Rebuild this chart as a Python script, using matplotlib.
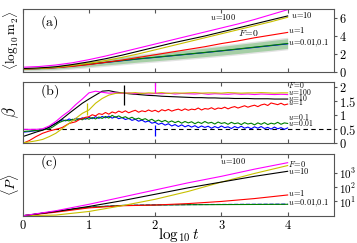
import numpy as np
import matplotlib as mpl
mpl.use('agg')
import matplotlib.pyplot as plt

plt.rcParams['mathtext.fontset'] = 'cm'
plt.rcParams['font.family'] = 'serif'
plt.rcParams['font.serif'] = ['DejaVu Serif']

## panel (a): <log10 m2> vs log10 t
xa = [0, 0.25, 0.5, 0.75, 1.0, 1.25, 1.5, 1.75, 2.0, 2.25, 2.5, 2.75, 3.0, 3.25, 3.5, 3.75, 4.0]
m_u100 = [0.5, 0.58, 0.75, 1.0, 1.35, 1.75, 2.2, 2.65, 3.1, 3.55, 4.0, 4.45, 4.9, 5.35, 5.85, 6.4, 6.95]
m_u10 = [0.35, 0.42, 0.55, 0.8, 1.1, 1.45, 1.85, 2.3, 2.75, 3.2, 3.6, 4.0, 4.45, 4.9, 5.35, 5.8, 6.25]
m_F0 = [0.3, 0.36, 0.48, 0.7, 0.95, 1.25, 1.6, 2.0, 2.45, 2.9, 3.35, 3.8, 4.25, 4.7, 5.15, 5.6, 6.1]
m_u1 = [0.3, 0.35, 0.45, 0.6, 0.8, 1.05, 1.3, 1.6, 1.9, 2.2, 2.5, 2.8, 3.15, 3.45, 3.8, 4.1, 4.4]
m_u01 = [0.3, 0.36, 0.48, 0.65, 0.85, 1.05, 1.25, 1.45, 1.62, 1.8, 1.98, 2.16, 2.35, 2.55, 2.75, 2.95, 3.16]
m_u001 = [0.3, 0.35, 0.46, 0.63, 0.83, 1.03, 1.23, 1.43, 1.6, 1.78, 1.96, 2.14, 2.33, 2.52, 2.72, 2.92, 3.12]
m_band = [0.1, 0.14, 0.18, 0.22, 0.26, 0.3, 0.34, 0.37, 0.4, 0.43, 0.45, 0.47, 0.49, 0.51, 0.52, 0.54, 0.55]

## panel (b): beta vs log10 t
xb = np.round(np.arange(0, 4.001, 0.1), 2)
b_u100 = [0.5, 0.5, 0.5, 0.52, 0.62, 0.78, 0.98, 1.15, 1.38, 1.58, 1.8, 1.86, 1.82, 1.79, 1.8,
          1.78, 1.8, 1.77, 1.79, 1.76, 1.78, 1.77, 1.79, 1.76, 1.78, 1.77, 1.76, 1.78, 1.75, 1.77,
          1.76, 1.75, 1.77, 1.75, 1.76, 1.74, 1.76, 1.75, 1.74, 1.75, 1.74]
b_u10 = [0.24, 0.32, 0.4, 0.47, 0.58, 0.71, 0.88, 1.07, 1.25, 1.43, 1.58, 1.72, 1.86, 1.88, 1.83,
         1.8, 1.77, 1.75, 1.73, 1.71, 1.7, 1.68, 1.67, 1.66, 1.65, 1.64, 1.63, 1.63, 1.62, 1.62,
         1.61, 1.61, 1.6, 1.6, 1.6, 1.59, 1.59, 1.59, 1.58, 1.58, 1.58]
b_F0 = [0.02, 0.05, 0.09, 0.14, 0.24, 0.36, 0.53, 0.71, 0.89, 1.07, 1.19, 1.43, 1.6, 1.72, 1.78,
        1.8, 1.79, 1.81, 1.78, 1.8, 1.79, 1.81, 1.78, 1.8, 1.79, 1.8, 1.81, 1.79, 1.8, 1.8,
        1.79, 1.81, 1.8, 1.79, 1.8, 1.8, 1.81, 1.8, 1.79, 1.8, 1.8]
xb2 = np.round(np.arange(0, 4.001, 0.05), 2)
b_u1 = [0.00, 0.05, 0.10, 0.17, 0.24, 0.30, 0.36, 0.40, 0.44, 0.47, 0.50, 0.53, 0.57, 0.64, 0.71,
        0.74, 0.77, 0.84, 0.89, 0.93, 0.95, 1.02, 0.98, 1.06, 1.03, 1.10, 1.04, 1.12, 1.08, 1.15,
        1.10, 1.16, 1.09, 1.14, 1.18, 1.11, 1.16, 1.13, 1.19, 1.14, 1.18, 1.12, 1.20, 1.16, 1.21,
        1.15, 1.19, 1.22, 1.17, 1.23, 1.18, 1.22, 1.20, 1.26, 1.19, 1.24, 1.22, 1.27, 1.21, 1.26,
        1.24, 1.29, 1.23, 1.28, 1.31, 1.26, 1.30, 1.34, 1.29, 1.33, 1.36, 1.31, 1.37, 1.40, 1.35,
        1.44, 1.41, 1.38, 1.43, 1.37, 1.40]
b_u01 = [0.42, 0.43, 0.44, 0.45, 0.46, 0.47, 0.48, 0.50, 0.52, 0.58, 0.66, 0.74, 0.79, 0.83, 0.80,
         0.86, 0.82, 0.88, 0.84, 0.91, 0.86, 0.92, 0.87, 0.94, 0.89, 0.96, 0.90, 1.00, 0.93, 0.98,
         0.91, 0.95, 0.88, 0.93, 0.86, 0.90, 0.84, 0.88, 0.81, 0.86, 0.78, 0.83, 0.77, 0.82, 0.75,
         0.80, 0.74, 0.79, 0.72, 0.78, 0.73, 0.77, 0.70, 0.76, 0.71, 0.78, 0.72, 0.75, 0.69, 0.76,
         0.71, 0.74, 0.68, 0.75, 0.70, 0.73, 0.67, 0.74, 0.69, 0.72, 0.66, 0.73, 0.68, 0.74, 0.67,
         0.72, 0.69, 0.75, 0.68, 0.73, 0.71]
b_u001 = [0.40, 0.41, 0.42, 0.44, 0.45, 0.47, 0.49, 0.52, 0.57, 0.65, 0.72, 0.78, 0.84, 0.80, 0.87,
          0.83, 0.89, 0.85, 0.91, 0.86, 0.93, 0.88, 0.95, 0.89, 0.96, 0.91, 0.97, 0.90, 0.95, 0.88,
          0.92, 0.85, 0.89, 0.82, 0.86, 0.79, 0.83, 0.76, 0.80, 0.72, 0.75, 0.68, 0.72, 0.65, 0.70,
          0.62, 0.67, 0.60, 0.66, 0.59, 0.64, 0.58, 0.63, 0.56, 0.62, 0.57, 0.61, 0.54, 0.60, 0.55,
          0.62, 0.56, 0.59, 0.53, 0.60, 0.55, 0.61, 0.54, 0.58, 0.52, 0.59, 0.54, 0.60, 0.53, 0.57,
          0.51, 0.58, 0.52, 0.56, 0.50, 0.55]
# isolated spikes in the beta curves: position, low, high, colour
spike_x = [0.97, 1.53, 2.0, 2.0]
spike_lo = [1.0, 1.37, 1.8, 0.25]
spike_hi = [1.43, 2.08, 2.2, 0.65]
spike_c = ['#c8c000', 'k', 'magenta', 'blue']

## panel (c): log10 <P> vs log10 t
xc = [0, 0.5, 1.0, 1.5, 2.0, 2.5, 3.0, 3.5, 4.0]
p_u100 = [0, 0.35, 0.8, 1.3, 1.8, 2.3, 2.75, 3.25, 3.7]
p_u10 = [0, 0.3, 0.65, 1.05, 1.5, 1.95, 2.35, 2.75, 3.1]
p_F0 = [0, 0.05, 0.3, 0.7, 1.15, 1.7, 2.35, 2.95, 3.5]
p_u1 = [0, 0.25, 0.55, 0.7, 0.75, 0.85, 1.0, 1.2, 1.45]
p_u01 = [0, 0.3, 0.6, 0.72, 0.75, 0.77, 0.78, 0.79, 0.8]
p_u001 = [0, 0.3, 0.6, 0.72, 0.76, 0.78, 0.79, 0.8, 0.81]

yel = '#c8c000'
fig = plt.figure(figsize=(3.57, 2.43), dpi=100)
L, W = 0.0636, 0.872
axa = fig.add_axes([L, 0.705, W, 0.257])
axb = fig.add_axes([L, 0.410, W, 0.254])
axc = fig.add_axes([L, 0.112, W, 0.254])

# (a)
axa.fill_between(xa, np.array(m_u01) - np.array(m_band) - 0.15, np.array(m_u01) + np.array(m_band) + 0.15,
                 color='#b0b0b0', alpha=0.35, lw=0)
axa.fill_between(xa, np.array(m_u01) - np.array(m_band), np.array(m_u01) + np.array(m_band),
                 color='#5cb85c', alpha=0.45, lw=0)
axa.plot(xa, m_u001, color='blue', lw=0.8)
axa.plot(xa, m_u01, color='green', lw=0.8)
axa.plot(xa, m_u1, color='red', lw=0.8)
axa.plot(xa, m_F0, color=yel, lw=0.8)
axa.plot(xa, m_u10, color='k', lw=0.8)
axa.plot(xa, m_u100, color='magenta', lw=0.8)
axa.set_ylim(0, 7)
axa.set_yticks([0, 2, 4, 6], ['$0$', '$2$', '$4$', '$6$'])
fs = 6
axa.text(3.03, 6.1, r'$u\!=\!100$', fontsize=fs, ha='center', va='center')
axa.text(4.05, 6.3, r'$u\!=\!10$', fontsize=fs, va='center')
axa.text(3.25, 4.3, r'$F\!=\!0$', fontsize=fs + 1, va='center')
axa.text(4.0, 4.7, r'$u\!=\!1$', fontsize=fs, va='center')
axa.text(4.0, 3.2, r'$u\!=\!0.01{,}0.1$', fontsize=fs, va='center')
axa.text(0.056, 0.79, r'$\mathrm{(a)}$', transform=axa.transAxes, fontsize=10, va='center')
axa.set_ylabel(r'$\langle\log_{10}\mathrm{m}_2\rangle$', fontsize=9.5)

# (b)
axb.axhline(0.5, color='k', ls='--', lw=0.8, dashes=(4, 3))
axb.plot(xb2, b_u001, color='blue', lw=0.8)
axb.plot(xb2, b_u01, color='green', lw=0.8)
axb.plot(xb2, b_u1, color='red', lw=0.8)
axb.plot(xb, b_u10, color='k', lw=0.8)
axb.plot(xb, b_u100, color='magenta', lw=0.8)
axb.plot(xb, b_F0, color=yel, lw=0.8)
axb.vlines(spike_x, spike_lo, spike_hi, colors=spike_c, lw=0.9)
axb.set_ylim(0, 2.2)
axb.set_yticks([0, 0.5, 1, 1.5, 2], ['$0$', '$0.5$', '$1$', '$1.5$', '$2$'])
fsb = 5.5
axb.text(4.0, 2.08, r'$F\!=\!0$', fontsize=fsb, va='center')
axb.text(4.0, 1.83, r'$u\!=\!100$', fontsize=fsb, va='center')
axb.text(4.0, 1.63, r'$u\!=\!10$', fontsize=fsb, va='center')
axb.text(4.0, 1.47, r'$u\!=\!1$', fontsize=fsb, va='center')
axb.text(4.0, 0.95, r'$u\!=\!0.1$', fontsize=fsb, va='center')
axb.text(4.0, 0.74, r'$u\!=\!0.01$', fontsize=fsb, va='center')
axb.text(0.056, 0.85, r'$\mathrm{(b)}$', transform=axb.transAxes, fontsize=10, va='center')
axb.set_ylabel(r'$\beta$', fontsize=12)

# (c)
axc.plot(xc, 10 ** np.array(p_u001), color='blue', lw=0.8, ls='--')
axc.plot(xc, 10 ** np.array(p_u01), color='green', lw=0.8)
axc.plot(xc, 10 ** np.array(p_u1), color='red', lw=0.8)
axc.plot(xc, 10 ** np.array(p_F0), color=yel, lw=0.8)
axc.plot(xc, 10 ** np.array(p_u10), color='k', lw=0.8)
axc.plot(xc, 10 ** np.array(p_u100), color='magenta', lw=0.8)
axc.set_yscale('log')
axc.set_ylim(1, 2e4)
axc.set_yticks([10, 100, 1000], [r'$10^1$', r'$10^2$', r'$10^3$'])
axc.yaxis.set_minor_locator(mpl.ticker.NullLocator())
axc.text(3.18, 10 ** 3.8, r'$u\!=\!100$', fontsize=fs, ha='center', va='center')
axc.text(4.0, 10 ** 3.6, r'$F\!=\!0$', fontsize=fs, va='center')
axc.text(4.0, 10 ** 3.12, r'$u\!=\!10$', fontsize=fs, va='center')
axc.text(4.0, 10 ** 1.57, r'$u\!=\!1$', fontsize=fs, va='center')
axc.text(4.0, 10 ** 0.87, r'$u\!=\!0.01{,}0.1$', fontsize=fs, va='center')
axc.text(0.056, 0.875, r'$\mathrm{(c)}$', transform=axc.transAxes, fontsize=10, va='center')
axc.set_ylabel(r'$\langle P\rangle$', fontsize=10)
axc.set_xticks([0, 1, 2, 3, 4], ['$0$', '$1$', '$2$', '$3$', '$4$'])
axc.set_xlabel(r'$\log_{10}t$', fontsize=11)

for ax in (axa, axb, axc):
    ax.set_xlim(0, 4.7)
    for s in ax.spines.values():
        s.set_color('#555555')
        s.set_linewidth(0.8)
    ax.tick_params(axis='x', direction='in', top=True, bottom=True, length=3,
                   color='#555555', labelsize=9, pad=2)
    ax.tick_params(axis='y', direction='out', left=False, right=True, labelleft=False,
                   labelright=True, length=2.5, color='#555555', labelsize=9, pad=1)
    ax.yaxis.set_label_coords(-0.006, 0.5)
    if ax is not axc:
        ax.set_xticks([0, 1, 2, 3, 4])
        ax.tick_params(axis='x', labelbottom=False)
axc.tick_params(axis='y', labelsize=8)
axc.xaxis.set_label_coords(0.5, -0.16)

fig.savefig('out.png', dpi=100)
